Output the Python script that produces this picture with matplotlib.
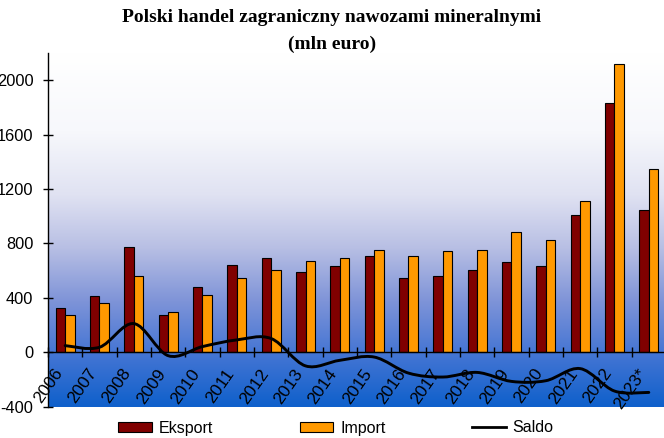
import numpy as np
import matplotlib
matplotlib.use("Agg")
import matplotlib.pyplot as plt
from matplotlib.colors import LinearSegmentedColormap
from matplotlib.path import Path
from matplotlib.patches import PathPatch, Patch
from matplotlib.lines import Line2D

years = ["2006", "2007", "2008", "2009", "2010", "2011", "2012", "2013", "2014",
         "2015", "2016", "2017", "2018", "2019", "2020", "2021", "2022", "2023*"]
eksport = [322, 413, 772, 276, 477, 645, 691, 590, 635,
           708, 544, 561, 608, 664, 635, 1006, 1835, 1048]
import_ = [276, 359, 561, 293, 423, 544, 608, 672, 691,
           753, 708, 745, 753, 883, 829, 1112, 2118, 1346]
saldo = [49, 37, 211, -25, 42, 91, 101, -100, -59,
         -35, -153, -182, -148, -214, -209, -120, -285, -295]
yticks = [-400, 0, 400, 800, 1200, 1600, 2000]

plt.rcParams['font.family'] = ['Liberation Sans', 'DejaVu Sans']
plt.rcParams['axes.unicode_minus'] = False

W, H = 664, 438
fig = plt.figure(figsize=(W / 100, H / 100), dpi=100)
left, right, top, bottom = 48, 666, 53, 406.7
ax = fig.add_axes([left / W, (H - bottom) / H, (right - left) / W, (bottom - top) / H])

n = len(years)
x = np.arange(n)
ax.set_xlim(-0.5, n - 0.5)
ax.set_ylim(-400, 2200)

# gradient background
cmap = LinearSegmentedColormap.from_list("bg", [
    (0.0, "#0f60cb"),
    (0.154, "#4676d4"),
    (0.30, "#7f94d8"),
    (0.45, "#b8bfe4"),
    (0.60, "#e0e2f2"),
    (0.78, "#f7f8fc"),
    (1.0, "#ffffff"),
])
grad = np.linspace(0, 1, 256).reshape(-1, 1)
ax.imshow(grad, extent=[-0.5, n - 0.5, -400, 2200], origin="lower",
          aspect="auto", cmap=cmap, zorder=0, interpolation="bicubic")

w = 0.28
ax.bar(x - w / 2, eksport, w, color="#800000", edgecolor="black", linewidth=0.8, zorder=2)
ax.bar(x + w / 2, import_, w, color="#ff9900", edgecolor="black", linewidth=0.8, zorder=2)

# smoothed saldo line (Bezier through data points)
P = np.column_stack([x, saldo]).astype(float)
verts = [P[0]]
codes = [Path.MOVETO]
for i in range(n - 1):
    p0 = P[i - 1] if i > 0 else P[i]
    p1 = P[i]
    p2 = P[i + 1]
    p3 = P[i + 2] if i + 2 < n else P[i + 1]
    c1 = p1 + (p2 - p0) / 6.0
    c2 = p2 - (p3 - p1) / 6.0
    verts += [c1, c2, p2]
    codes += [Path.CURVE4] * 3
ax.add_patch(PathPatch(Path(verts, codes), facecolor="none", edgecolor="black",
                       linewidth=2.1, zorder=3, capstyle="round"))

# axes styling
for s in ["top", "right"]:
    ax.spines[s].set_visible(False)
ax.spines["bottom"].set_position(("data", 0))
ax.spines["bottom"].set_linewidth(1.0)
ax.spines["left"].set_linewidth(1.0)
ax.spines["bottom"].set_zorder(4)
ax.set_xticks(np.arange(-0.5, n, 1.0))
ax.set_xticklabels([])
ax.tick_params(axis="x", direction="inout", length=7.2, width=1.0)
ax.set_yticks(yticks)
ax.set_yticklabels([str(v) for v in yticks], fontsize=11.8)
ax.tick_params(axis="y", direction="inout", length=7.2, width=1.0, pad=7)

for i, lab in enumerate(years):
    ax.text(i - 0.17, -133, lab, rotation=55, rotation_mode="anchor",
            ha="right", va="center", fontsize=12.5, zorder=5, clip_on=False)

# title
fig.text(0.5, 1 - 17 / H, "Polski handel zagraniczny nawozami mineralnymi",
         ha="center", va="center", family=["Liberation Serif", "DejaVu Serif"],
         weight="bold", fontsize=14)
fig.text(0.5, 1 - 44 / H, "(mln euro)",
         ha="center", va="center", family=["Liberation Serif", "DejaVu Serif"],
         weight="bold", fontsize=14)

handles = [Patch(facecolor="#800000", edgecolor="black", linewidth=0.8),
           Patch(facecolor="#ff9900", edgecolor="black", linewidth=0.8),
           Line2D([], [], color="black", linewidth=2)]
fig.legend(handles, ["Eksport", "Import", "Saldo"], loc="center",
           bbox_to_anchor=(336 / W, 1 - 428 / H), ncol=3, frameon=False,
           fontsize=11.5, handlelength=2.1, handletextpad=0.45,
           columnspacing=5.4, handleheight=0.6)

fig.savefig("out.png", dpi=100)
